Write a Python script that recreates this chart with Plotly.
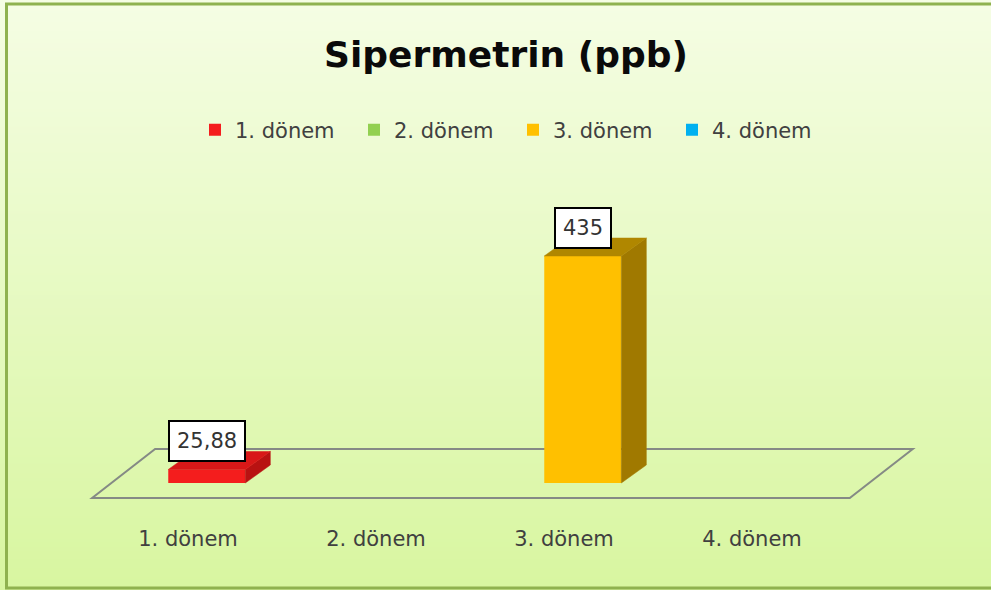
import base64
import struct
import zlib

import plotly.graph_objects as go

# ---------------- data ----------------
categories = ["1. dönem", "2. dönem", "3. dönem", "4. dönem"]
values = [25.88, None, 435, None]
value_labels = ["25,88", None, "435", None]
front_colors = ["#f41d1d", "#92d050", "#ffc000", "#00b0f0"]
side_colors = ["#b81212", "#6a9a35", "#a07900", "#007aa8"]
top_colors = ["#d81818", "#7db845", "#b08700", "#0090c8"]
title_text = "Sipermetrin (ppb)"

# ---------------- geometry / style constants ----------------
W, H = 991, 590
PX_PER_UNIT = 227 / 435          # vertical pixels per data unit
BASE_PX = 483                    # pixel row of value 0
CAT_PX0, CAT_STEP = 188, 188     # pixel column of first category and spacing
PLOT_TOP_PX, PLOT_BOT_PX = 60, 524

BAR_SHIFT = 0.1                  # front face centre offset from category
BAR_W = 0.41
DEPTH_DX = 25 / CAT_STEP         # bar depth in x units
DEPTH_DY = 18 / PX_PER_UNIT      # bar depth in y units

FLOOR_FRONT_Y = -15 / PX_PER_UNIT
FLOOR_DX = 63 / CAT_STEP
FLOOR_DY = 49 / PX_PER_UNIT
FLOOR_LEFT = -0.51
FLOOR_RIGHT_PAD = 0.52

y_lo = (BASE_PX - PLOT_BOT_PX) / PX_PER_UNIT
y_hi = (BASE_PX - PLOT_TOP_PX) / PX_PER_UNIT
x_lo = -CAT_PX0 / CAT_STEP
x_hi = (W - CAT_PX0) / CAT_STEP


def png_gradient(h, top, bottom):
    rows = b""
    for r in range(h):
        t = r / (h - 1)
        c = [round(top[k] + (bottom[k] - top[k]) * t) for k in range(3)]
        rows += b"\x00" + bytes(c)

    def chunk(tag, data):
        return (struct.pack(">I", len(data)) + tag + data
                + struct.pack(">I", zlib.crc32(tag + data) & 0xffffffff))

    ihdr = struct.pack(">IIBBBBB", 1, h, 8, 2, 0, 0, 0)
    png = (b"\x89PNG\r\n\x1a\n" + chunk(b"IHDR", ihdr)
           + chunk(b"IDAT", zlib.compress(rows)) + chunk(b"IEND", b""))
    return "data:image/png;base64," + base64.b64encode(png).decode()


bg = png_gradient(H, (245, 253, 228), (216, 246, 160))

fig = go.Figure()

# front faces (bars) – one series per period
for i, (cat, v) in enumerate(zip(categories, values)):
    fig.add_trace(go.Bar(
        x=[i + BAR_SHIFT], y=[v], width=[BAR_W], name=cat,
        marker=dict(color=front_colors[i], line=dict(width=0)),
        hoverinfo="skip",
    ))

# side and top faces for 3D look
for i, v in enumerate(values):
    if v is None:
        continue
    xl = i + BAR_SHIFT - BAR_W / 2
    xr = i + BAR_SHIFT + BAR_W / 2
    side_x = [xr, xr + DEPTH_DX, xr + DEPTH_DX, xr, xr]
    side_y = [0, DEPTH_DY, v + DEPTH_DY, v, 0]
    top_x = [xl, xl + DEPTH_DX, xr + DEPTH_DX, xr, xl]
    top_y = [v, v + DEPTH_DY, v + DEPTH_DY, v, v]
    for xs, ys, col in ((side_x, side_y, side_colors[i]), (top_x, top_y, top_colors[i])):
        fig.add_trace(go.Scatter(
            x=xs, y=ys, mode="lines", fill="toself", fillcolor=col,
            line=dict(color=col, width=0.5), showlegend=False, hoverinfo="skip",
        ))

# floor outline (axis plane)
n = len(categories)
fl, fr = FLOOR_LEFT, n - 1 + FLOOR_RIGHT_PAD
fy = FLOOR_FRONT_Y
floor_path = (f"M{fl},{fy} L{fr},{fy} L{fr + FLOOR_DX},{fy + FLOOR_DY} "
              f"L{fl + FLOOR_DX},{fy + FLOOR_DY} Z")
shapes = [
    dict(type="path", path=floor_path, xref="x", yref="y", layer="below",
         line=dict(color="#858a85", width=2)),
    dict(type="rect", xref="paper", yref="paper",
         x0=6.5 / W, x1=1.02, y0=1 - 588 / H, y1=1 - 4 / H,
         line=dict(color="#8fb24f", width=3), layer="above"),
]

annotations = []
for i, (v, lab) in enumerate(zip(values, value_labels)):
    if v is None:
        continue
    annotations.append(dict(
        x=i + BAR_SHIFT, y=v, xref="x", yref="y", text=lab, showarrow=False,
        yanchor="bottom", yshift=7, bgcolor="white", bordercolor="black",
        borderwidth=2, borderpad=7,
        font=dict(family="DejaVu Sans", size=21, color="#333333"),
    ))

fig.update_layout(
    width=W, height=H, autosize=False,
    margin=dict(l=0, r=0, t=0, b=0),
    paper_bgcolor="#ffffff", plot_bgcolor="rgba(0,0,0,0)",
    barmode="overlay",
    title=dict(text=title_text, x=506 / W, xanchor="center", y=1 - 54 / H,
               yanchor="middle",
               font=dict(family="DejaVu Sans", size=36, color="#0a0a0a",
                         weight="bold")),
    legend=dict(orientation="h", x=195 / W, xanchor="left", y=1 - 130 / H,
                yanchor="middle", font=dict(family="DejaVu Sans", size=21,
                                            color="#404040"),
                bgcolor="rgba(0,0,0,0)", entrywidth=114, entrywidthmode="pixels",
                traceorder="normal"),
    xaxis=dict(range=[x_lo, x_hi], domain=[0, 1], tickvals=list(range(n)),
               ticktext=categories, showgrid=False, zeroline=False,
               showline=False, ticks="", fixedrange=True,
               tickfont=dict(family="DejaVu Sans", size=21, color="#404040")),
    yaxis=dict(range=[y_lo, y_hi], domain=[1 - PLOT_BOT_PX / H, 1 - PLOT_TOP_PX / H],
               showgrid=False, zeroline=False, showline=False,
               showticklabels=False, ticks="", fixedrange=True),
    shapes=shapes,
    annotations=annotations,
    images=[dict(source=bg, xref="paper", yref="paper", x=0, y=1, sizex=1,
                 sizey=1, sizing="stretch", layer="below", xanchor="left",
                 yanchor="top")],
    showlegend=True,
)

fig.write_html("out.html",
               config={"displayModeBar": False},
               post_script="document.body.style.margin='0';"
                           "document.body.style.overflow='hidden';")
